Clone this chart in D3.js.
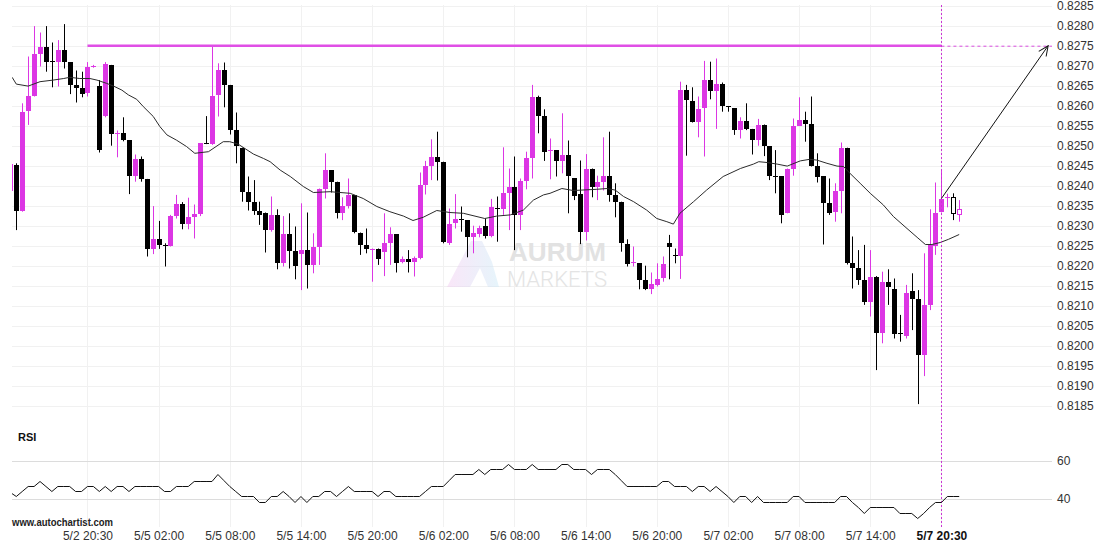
<!DOCTYPE html>
<html><head><meta charset="utf-8">
<script src="https://cdn.jsdelivr.net/npm/d3@7"></script>
<style>body{margin:0;background:#fff}svg{display:block}text{font-family:"Liberation Sans",Arial,sans-serif}</style>
</head><body><svg id="c" width="1110" height="550"></svg>
<script>
// ---------- DATA (30-minute candles, index -1 .. 159) ----------
const firstIndex = -1;
const open = [0.82387,0.82452,0.82338,0.82588,0.82624,0.82729,0.82747,0.82711,0.82709,0.82739,0.82709,0.82652,0.82645,0.82633,0.82697,0.82649,0.82574,0.82702,0.82531,0.82533,0.82514,0.82425,0.82467,0.82417,0.82242,0.82267,0.82253,0.82250,0.82324,0.82354,0.82305,0.82322,0.82330,0.82507,0.82504,0.82627,0.82689,0.82652,0.82539,0.82495,0.82385,0.82360,0.82338,0.82333,0.82289,0.82327,0.82206,0.82279,0.82238,0.82229,0.82239,0.82202,0.82248,0.82391,0.82439,0.82408,0.82331,0.82349,0.82377,0.82283,0.82253,0.82240,0.82241,0.82235,0.82258,0.82279,0.82208,0.82216,0.82208,0.82218,0.82402,0.82449,0.82473,0.82460,0.82258,0.82306,0.82316,0.82313,0.82273,0.82279,0.82298,0.82275,0.82345,0.82343,0.82383,0.82396,0.82327,0.82412,0.82470,0.82621,0.82575,0.82487,0.82489,0.82463,0.82477,0.82418,0.82379,0.82285,0.82443,0.82396,0.82408,0.82424,0.82377,0.82360,0.82254,0.82206,0.82206,0.82164,0.82143,0.82152,0.82170,0.82256,0.82227,0.82225,0.82639,0.82612,0.82560,0.82595,0.82664,0.82638,0.82654,0.82599,0.82593,0.82539,0.82562,0.82542,0.82513,0.82553,0.82498,0.82425,0.82423,0.82333,0.82443,0.82549,0.82564,0.82554,0.82450,0.82423,0.82358,0.82335,0.82387,0.82495,0.82206,0.82195,0.82164,0.82108,0.82173,0.82033,0.82159,0.82143,0.82031,0.82024,0.82137,0.82116,0.81978,0.82102,0.82250,0.82335,0.82369,0.82373,0.82327];
const high = [0.82460,0.82456,0.82606,0.82723,0.82799,0.82783,0.82799,0.82758,0.82764,0.82804,0.82709,0.82688,0.82685,0.82709,0.82702,0.82664,0.82709,0.82702,0.82538,0.82571,0.82514,0.82478,0.82473,0.82417,0.82349,0.82312,0.82256,0.82327,0.82377,0.82359,0.82370,0.82353,0.82506,0.82574,0.82748,0.82706,0.82708,0.82652,0.82583,0.82495,0.82423,0.82414,0.82360,0.82333,0.82373,0.82341,0.82324,0.82331,0.82298,0.82356,0.82333,0.82281,0.82393,0.82481,0.82439,0.82410,0.82371,0.82418,0.82377,0.82283,0.82293,0.82243,0.82243,0.82331,0.82296,0.82279,0.82223,0.82239,0.82223,0.82433,0.82462,0.82516,0.82535,0.82460,0.82343,0.82379,0.82348,0.82313,0.82300,0.82300,0.82318,0.82367,0.82373,0.82496,0.82443,0.82473,0.82418,0.82485,0.82652,0.82625,0.82591,0.82518,0.82489,0.82581,0.82513,0.82418,0.82463,0.82479,0.82443,0.82425,0.82521,0.82535,0.82406,0.82360,0.82266,0.82248,0.82206,0.82200,0.82183,0.82206,0.82223,0.82277,0.82243,0.82660,0.82652,0.82646,0.82623,0.82712,0.82710,0.82718,0.82658,0.82599,0.82593,0.82571,0.82606,0.82542,0.82567,0.82553,0.82498,0.82489,0.82423,0.82443,0.82568,0.82621,0.82585,0.82623,0.82481,0.82424,0.82418,0.82406,0.82508,0.82495,0.82273,0.82239,0.82252,0.82239,0.82174,0.82185,0.82191,0.82168,0.82077,0.82152,0.82181,0.82139,0.82231,0.82341,0.82408,0.82438,0.82380,0.82381,0.82364];
const low = [0.82380,0.82289,0.82335,0.82552,0.82623,0.82698,0.82685,0.82646,0.82648,0.82693,0.82629,0.82608,0.82621,0.82623,0.82695,0.82483,0.82571,0.82500,0.82471,0.82511,0.82379,0.82410,0.82410,0.82223,0.82229,0.82242,0.82198,0.82248,0.82318,0.82291,0.82291,0.82268,0.82324,0.82504,0.82502,0.82573,0.82596,0.82528,0.82456,0.82360,0.82338,0.82327,0.82302,0.82233,0.82285,0.82191,0.82198,0.82193,0.82166,0.82139,0.82143,0.82181,0.82202,0.82368,0.82383,0.82318,0.82314,0.82343,0.82281,0.82227,0.82231,0.82160,0.82202,0.82174,0.82202,0.82183,0.82206,0.82183,0.82173,0.82216,0.82378,0.82414,0.82413,0.82256,0.82252,0.82293,0.82285,0.82221,0.82231,0.82271,0.82268,0.82271,0.82260,0.82327,0.82289,0.82239,0.82289,0.82391,0.82418,0.82531,0.82462,0.82416,0.82423,0.82431,0.82331,0.82364,0.82254,0.82263,0.82371,0.82364,0.82388,0.82360,0.82321,0.82235,0.82198,0.82198,0.82141,0.82139,0.82129,0.82148,0.82160,0.82166,0.82206,0.82167,0.82475,0.82558,0.82521,0.82473,0.82616,0.82542,0.82585,0.82585,0.82527,0.82518,0.82539,0.82478,0.82500,0.82474,0.82414,0.82381,0.82306,0.82331,0.82425,0.82549,0.82510,0.82448,0.82408,0.82253,0.82327,0.82310,0.82331,0.82203,0.82143,0.82152,0.82102,0.82073,0.81939,0.82006,0.82102,0.82018,0.82010,0.82018,0.82039,0.81854,0.81924,0.82089,0.82227,0.82333,0.82346,0.82314,0.82310];
const close = [0.82454,0.82338,0.82585,0.82624,0.82729,0.82747,0.82709,0.82709,0.82739,0.82709,0.82652,0.82645,0.82629,0.82696,0.82699,0.82489,0.82704,0.82529,0.82533,0.82514,0.82425,0.82467,0.82417,0.82243,0.82267,0.82253,0.82251,0.82324,0.82354,0.82305,0.82321,0.82329,0.82506,0.82505,0.82624,0.82689,0.82652,0.82539,0.82498,0.82385,0.82360,0.82338,0.82327,0.82289,0.82327,0.82206,0.82279,0.82238,0.82198,0.82239,0.82202,0.82248,0.82391,0.82439,0.82410,0.82331,0.82349,0.82377,0.82285,0.82253,0.82241,0.82242,0.82216,0.82258,0.82279,0.82206,0.82216,0.82208,0.82220,0.82402,0.82449,0.82473,0.82460,0.82260,0.82304,0.82317,0.82314,0.82273,0.82281,0.82295,0.82275,0.82346,0.82343,0.82383,0.82396,0.82327,0.82412,0.82470,0.82621,0.82575,0.82485,0.82489,0.82463,0.82477,0.82423,0.82374,0.82285,0.82442,0.82396,0.82408,0.82424,0.82377,0.82360,0.82256,0.82204,0.82209,0.82164,0.82143,0.82154,0.82168,0.82204,0.82248,0.82225,0.82639,0.82614,0.82560,0.82592,0.82664,0.82638,0.82654,0.82598,0.82596,0.82539,0.82562,0.82542,0.82513,0.82553,0.82500,0.82423,0.82423,0.82327,0.82443,0.82549,0.82564,0.82554,0.82450,0.82421,0.82358,0.82333,0.82387,0.82495,0.82206,0.82195,0.82164,0.82108,0.82173,0.82033,0.82160,0.82146,0.82028,0.82029,0.82133,0.82116,0.81978,0.82102,0.82252,0.82331,0.82368,0.82371,0.82329,0.82341];
// moving average (candle index, value)
const maIdx = [-0.7,0,2,4,6.2,8,9,10.7,12.4,13.6,15.2,16.4,17.8,18.9,20.3,21.4,23.1,24.2,25.4,27,28.7,30.1,32.4,34.9,36,37.4,40,41.7,42.8,44.5,46.2,48.4,50.1,52.9,56.3,58.5,60.8,63,65.3,66.9,68.6,70.9,73.1,75.4,79,81,83.3,85.5,87.2,88.9,90,92,93.9,97.9,99.6,101,102.4,104.1,106.3,108,109.7,110.8,111.9,114.2,116.4,119.2,122.1,124.3,125.2,126.6,128.3,130,132.2,133.8,135,136.7,138.4,139.5,140.3,142.3,144,146.2,147.9,150.2,151.9,153.3,154.4,155.8,157.2,159];
const maVal = [0.82671,0.82654,0.82649,0.82660,0.82664,0.82668,0.82671,0.82668,0.82668,0.82664,0.82656,0.82649,0.82639,0.82627,0.82616,0.82598,0.82573,0.82548,0.82527,0.82514,0.82498,0.82481,0.82485,0.82510,0.82510,0.82504,0.82479,0.82468,0.82460,0.82439,0.82423,0.82398,0.82383,0.82385,0.82381,0.82368,0.82348,0.82335,0.82324,0.82313,0.82321,0.82338,0.82333,0.82331,0.82318,0.82324,0.82327,0.82339,0.82364,0.82377,0.82381,0.82393,0.82388,0.82391,0.82393,0.82389,0.82373,0.82360,0.82339,0.82318,0.82310,0.82304,0.82331,0.82360,0.82389,0.82423,0.82443,0.82454,0.82460,0.82458,0.82454,0.82449,0.82462,0.82466,0.82464,0.82456,0.82449,0.82448,0.82435,0.82406,0.82381,0.82352,0.82323,0.82293,0.82271,0.82253,0.82253,0.82258,0.82266,0.82278];
const rsi = [43.9,41.6,44.4,47.0,47.0,49.6,47.0,44.4,47.0,47.0,47.0,44.4,44.4,47.0,47.0,44.4,47.0,44.4,47.0,47.0,44.4,47.0,47.0,47.0,47.0,47.0,44.4,44.4,47.0,47.0,47.0,49.6,49.6,49.6,49.6,53.0,50.0,47.0,44.4,41.6,41.6,41.6,38.6,38.6,41.6,41.6,44.4,41.6,38.6,41.6,38.6,41.6,41.6,44.4,44.4,41.6,44.4,47.0,44.4,44.4,44.4,44.4,41.6,44.4,44.4,41.6,41.6,41.6,41.6,41.6,44.4,47.0,47.0,47.0,50.0,53.0,53.0,53.0,53.0,55.6,53.0,55.6,55.6,55.6,58.2,55.6,55.6,55.6,58.2,55.6,55.6,55.6,55.6,58.2,58.2,55.6,55.6,55.6,53.0,55.6,55.6,55.6,53.0,50.0,47.0,47.0,47.0,47.0,47.0,47.0,49.6,49.6,47.0,47.0,47.0,44.4,47.0,47.0,44.4,47.0,44.4,41.6,38.6,41.6,41.6,38.6,41.6,38.6,38.6,38.6,38.6,38.6,41.6,41.6,38.6,38.6,38.6,38.6,38.6,38.6,41.6,41.6,38.6,35.6,32.5,35.6,35.6,35.6,35.6,35.6,32.5,32.5,32.5,29.8,32.5,35.6,38.6,38.6,41.6,41.6,41.6];
const tickIdx = [12,24,36,48,60,72,84,96,108,120,132,144,156];
const tickLabels = ["5/2 20:30","5/5 02:00","5/5 08:00","5/5 14:00","5/5 20:00","5/6 02:00","5/6 08:00","5/6 14:00","5/6 20:00","5/7 02:00","5/7 08:00","5/7 14:00","5/7 20:30"];
const priceTicks = [0.8185,0.8190,0.8195,0.8200,0.8205,0.8210,0.8215,0.8220,0.8225,0.8230,0.8235,0.8240,0.8245,0.8250,0.8255,0.8260,0.8265,0.8270,0.8275,0.8280,0.8285];
const rsiTicks = [40,60];
const resistance = 0.8275, resistanceFrom = 12, signalIdx = 156, targetIdx = 174;

// ---------- CHART ----------
const svg = d3.select("#c");
const plotL = 12, plotR = 1052;
const x = d3.scaleLinear().domain([0,159]).range([16.3,959.2]);
const y = d3.scaleLinear().domain([0.8185,0.8285]).range([405.7,5.7]);
const yR = d3.scaleLinear().domain([40,60]).range([499,461]);
const BULL = "#dc36e4";

const defs = svg.append("defs");
defs.append("clipPath").attr("id","clipP").append("rect").attr("x",plotL).attr("y",0).attr("width",plotR-plotL).attr("height",425);
defs.append("clipPath").attr("id","clipR").append("rect").attr("x",plotL).attr("y",425).attr("width",plotR-plotL).attr("height",105);
const grad = defs.append("linearGradient").attr("id","wm").attr("x1","0").attr("y1","0").attr("x2","1").attr("y2","0");
grad.append("stop").attr("offset","0").attr("stop-color","#f2c8f0");
grad.append("stop").attr("offset","1").attr("stop-color","#c8e8f6");
defs.append("marker").attr("id","arr").attr("viewBox","-11 -6 12 12").attr("refX",0).attr("refY",0)
  .attr("markerWidth",12).attr("markerHeight",12).attr("markerUnits","userSpaceOnUse").attr("orient","auto")
  .append("path").attr("d","M-10,-4.5 L0,0 L-10,4.5").attr("fill","none").attr("stroke","#111").attr("stroke-width",1);

// grid
svg.append("g").selectAll("line").data(priceTicks).join("line")
  .attr("x1",plotL).attr("x2",plotR).attr("y1",d=>Math.round(y(d))+0.5).attr("y2",d=>Math.round(y(d))+0.5)
  .attr("stroke","#f1f1f1");
svg.append("g").selectAll("line").data(tickIdx).join("line")
  .attr("x1",d=>Math.round(x(d))+0.5).attr("x2",d=>Math.round(x(d))+0.5).attr("y1",5).attr("y2",527)
  .attr("stroke","#f1f1f1");
svg.append("g").selectAll("line").data(rsiTicks).join("line")
  .attr("x1",plotL).attr("x2",plotR).attr("y1",d=>Math.round(yR(d))+0.5).attr("y2",d=>Math.round(yR(d))+0.5)
  .attr("stroke","#dcdcdc");

// watermark
const wm = svg.append("g");
wm.append("path").attr("d","M447,287 L471,241 L482,241 L492,262 L499,287 L488,287 L480,268 L470,287 Z")
  .attr("fill","url(#wm)").attr("opacity",0.45);
wm.append("text").attr("x",509).attr("y",261).text("AURUM")
  .attr("font-size",25).attr("font-weight","bold").attr("fill","#e2e2e2").attr("textLength",97).attr("lengthAdjust","spacingAndGlyphs");
wm.append("text").attr("x",507).attr("y",287).text("MARKETS").style("font-family","Roboto, 'Liberation Sans', sans-serif")
  .attr("font-size",22).attr("font-weight",300).attr("fill","#e4e4e4").attr("textLength",100).attr("lengthAdjust","spacingAndGlyphs");

// candles
const candles = open.map((o,k)=>({i:k+firstIndex,o,h:high[k],l:low[k],c:close[k]}));
const cg = svg.append("g").attr("clip-path","url(#clipP)");
candles.forEach(d=>{
  const r = Math.round(x(d.i));
  const col = d.c >= d.o ? BULL : "#000";
  const hollow = d.i > signalIdx && Math.abs(y(d.o)-y(d.c)) > 2;
  cg.append("line").attr("x1",r+0.5).attr("x2",r+0.5).attr("y1",y(d.h)).attr("y2",y(d.l)).attr("stroke",col).attr("stroke-width",1);
  const top = Math.round(y(Math.max(d.o,d.c))), bot = Math.round(y(Math.min(d.o,d.c)));
  if (hollow) {
    cg.append("rect").attr("x",r-1.5).attr("y",top+0.5).attr("width",4).attr("height",Math.max(1,bot-top-1))
      .attr("fill","#fff").attr("stroke",col).attr("stroke-width",1);
  } else {
    cg.append("rect").attr("x",r-2).attr("y",top).attr("width",5).attr("height",Math.max(1,bot-top)).attr("fill",col);
  }
});

// moving average
cg.append("path").datum(maIdx.map((d,k)=>[d,maVal[k]]))
  .attr("d",d3.line().x(d=>x(d[0])).y(d=>y(d[1])))
  .attr("fill","none").attr("stroke","#2b2b2b").attr("stroke-width",1);

// resistance level
svg.append("line").attr("x1",x(resistanceFrom)).attr("x2",x(signalIdx)).attr("y1",y(resistance)).attr("y2",y(resistance))
  .attr("stroke","#e04fe6").attr("stroke-width",2.6);
svg.append("line").attr("x1",x(signalIdx)).attr("x2",plotR).attr("y1",y(resistance)+0.5).attr("y2",y(resistance)+0.5)
  .attr("stroke","#d94ce0").attr("stroke-width",1).attr("stroke-dasharray","3,3");
svg.append("line").attr("x1",Math.round(x(signalIdx))+0.5).attr("x2",Math.round(x(signalIdx))+0.5).attr("y1",5).attr("y2",527)
  .attr("stroke","#cc33d4").attr("stroke-width",1).attr("stroke-dasharray","2,2");

// forecast arrow
svg.append("line").attr("x1",x(signalIdx)).attr("y1",y(close[signalIdx-firstIndex]))
  .attr("x2",x(targetIdx)).attr("y2",y(resistance))
  .attr("stroke","#111").attr("stroke-width",1).attr("marker-end","url(#arr)");

// RSI
svg.append("path").attr("clip-path","url(#clipR)").datum(rsi.map((v,k)=>[k+firstIndex,v]))
  .attr("d",d3.line().x(d=>x(d[0])).y(d=>Math.round(yR(d[1]))+0.5))
  .attr("fill","none").attr("stroke","#111").attr("stroke-width",1);
svg.append("text").attr("x",18).attr("y",441).text("RSI").attr("font-size",11).attr("font-weight","bold").attr("fill","#111");

// price axis
const pa = svg.append("g").attr("transform",`translate(1057,0)`)
  .call(d3.axisRight(y).tickValues(priceTicks).tickFormat(d3.format(".4f")).tickSize(0).tickPadding(0));
pa.select(".domain").remove();
pa.selectAll("text").attr("font-size",12).attr("fill","#333").style("font-family","'Liberation Sans',Arial,sans-serif");

// rsi axis
const ra = svg.append("g").attr("transform",`translate(1057,0)`)
  .call(d3.axisRight(yR).tickValues(rsiTicks).tickFormat(d3.format("d")).tickSize(0).tickPadding(0));
ra.select(".domain").remove();
ra.selectAll("text").attr("font-size",12).attr("fill","#333").style("font-family","'Liberation Sans',Arial,sans-serif");

// time axis
const ta = svg.append("g").attr("transform",`translate(0,528)`)
  .call(d3.axisBottom(x).tickValues(tickIdx).tickFormat((d,k)=>tickLabels[k]).tickSize(0).tickPadding(3.5));
ta.select(".domain").remove();
ta.selectAll("text").attr("font-size",12).attr("fill","#333").style("font-family","'Liberation Sans',Arial,sans-serif")
  .attr("font-weight",(d,k)=>k===tickLabels.length-1?"bold":"normal").attr("fill",(d,k)=>k===tickLabels.length-1?"#111":"#333");

svg.append("text").attr("x",12).attr("y",526).text("www.autochartist.com").attr("font-size",11).attr("font-weight","bold")
  .attr("fill","#222").attr("textLength",101).attr("lengthAdjust","spacingAndGlyphs");
</script></body></html>
